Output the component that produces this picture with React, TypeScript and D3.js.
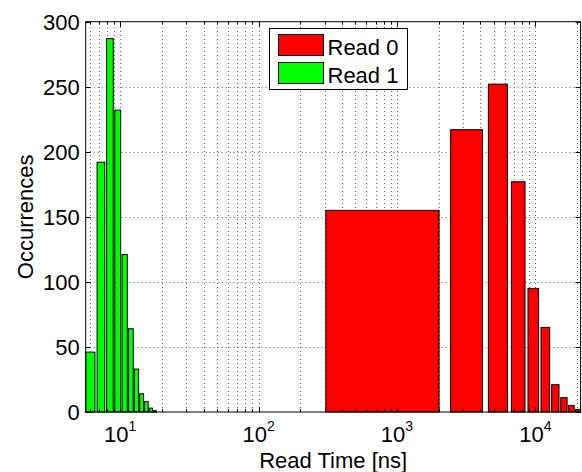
import React, { useEffect, useRef } from 'react';
import * as d3 from 'd3';

// bin centres [ns] and counts
const read0Centers = [1160, 3295, 5430, 7565, 9700, 11835, 13970, 16105, 18240, 20375];
const read0Counts = [155, 217, 252, 177, 95, 65, 21, 11, 5, 2];
const read1Centers = [6.1, 7.27, 8.44, 9.61, 10.78, 11.95, 13.12, 14.29, 15.46, 16.63, 17.8];
const read1Counts = [46, 192, 287, 232, 121, 64, 33, 14, 8, 3, 1];

// bar widths in data units (0.8 of the bin spacing)
const read0BarWidth = 1708;
const read1BarWidth = 0.936;

const xLimits = [5.63, 21230];
const yLimits = [0, 300];
const yTickValues = [0, 50, 100, 150, 200, 250, 300];
const xLabelExponents = [1, 2, 3, 4];
const legendLabels = ['Read 0', 'Read 1'];

const FONT = '"Liberation Sans", Arial, Helvetica, sans-serif';

const App = () => {
  const svgRef = useRef<SVGSVGElement>(null);

  useEffect(() => {
    const svg = d3.select(svgRef.current);
    svg.selectAll('*').remove();

    const width = 582;
    const height = 472;
    const margin = { top: 21.7, right: 1.4, bottom: 60, left: 85.7 };
    const x0 = margin.left;
    const x1 = width - margin.right;
    const y0 = height - margin.bottom;
    const y1 = margin.top;

    const x = d3.scaleLog().domain(xLimits).range([x0, x1]);
    const y = d3.scaleLinear().domain(yLimits).range([y0, y1]);

    const xTicks = x.ticks().filter(d => d >= xLimits[0] && d <= xLimits[1]);
    const isMajor = (d: number) => Math.abs(Math.log10(d) - Math.round(Math.log10(d))) < 1e-9;

    svg.append('rect')
      .attr('width', width)
      .attr('height', height)
      .attr('fill', 'white');

    // dotted grid
    const grid = svg.append('g')
      .attr('stroke', '#666')
      .attr('stroke-width', 1)
      .attr('stroke-dasharray', '1,3');

    grid.selectAll('line.v')
      .data(xTicks)
      .join('line')
      .attr('class', 'v')
      .attr('x1', d => Math.round(x(d)) + 0.5)
      .attr('x2', d => Math.round(x(d)) + 0.5)
      .attr('y1', y0)
      .attr('y2', y1);

    grid.selectAll('line.h')
      .data(yTickValues.filter(d => d > yLimits[0] && d < yLimits[1]))
      .join('line')
      .attr('class', 'h')
      .attr('x1', x0)
      .attr('x2', x1)
      .attr('y1', d => Math.round(y(d)) + 0.5)
      .attr('y2', d => Math.round(y(d)) + 0.5);

    // bars
    const drawBars = (centers: number[], counts: number[], w: number, color: string) => {
      svg.append('g')
        .selectAll('rect')
        .data(centers.map((c, i) => ({ c, n: counts[i] })))
        .join('rect')
        .attr('x', d => x(Math.max(d.c - w / 2, xLimits[0])))
        .attr('width', d => x(Math.min(d.c + w / 2, xLimits[1])) - x(Math.max(d.c - w / 2, xLimits[0])))
        .attr('y', d => y(d.n))
        .attr('height', d => y(0) - y(d.n))
        .attr('fill', color)
        .attr('stroke', '#000')
        .attr('stroke-width', 1);
    };
    drawBars(read1Centers, read1Counts, read1BarWidth, '#00ff00');
    drawBars(read0Centers, read0Counts, read0BarWidth, '#ff0000');

    // frame and ticks
    const axes = svg.append('g').attr('stroke', '#000').attr('stroke-width', 1);
    axes.append('rect')
      .attr('x', x0)
      .attr('y', y1)
      .attr('width', x1 - x0)
      .attr('height', y0 - y1)
      .attr('fill', 'none');

    xTicks.forEach(d => {
      const len = isMajor(d) ? 5 : 3;
      const px = Math.round(x(d)) + 0.5;
      axes.append('line').attr('x1', px).attr('x2', px).attr('y1', y0).attr('y2', y0 - len);
      axes.append('line').attr('x1', px).attr('x2', px).attr('y1', y1).attr('y2', y1 + len);
    });
    yTickValues.forEach(d => {
      const py = Math.round(y(d)) + 0.5;
      axes.append('line').attr('x1', x0).attr('x2', x0 + 5).attr('y1', py).attr('y2', py);
      axes.append('line').attr('x1', x1).attr('x2', x1 - 5).attr('y1', py).attr('y2', py);
    });

    // tick labels
    svg.append('g')
      .selectAll('text')
      .data(yTickValues)
      .join('text')
      .attr('x', x0 - 6)
      .attr('y', d => y(d))
      .attr('dy', '0.36em')
      .attr('text-anchor', 'end')
      .attr('font-family', FONT)
      .attr('font-size', 22)
      .text(d => d);

    const xl = svg.append('g')
      .selectAll('text')
      .data(xLabelExponents)
      .join('text')
      .attr('x', d => x(Math.pow(10, d)))
      .attr('y', 442)
      .attr('text-anchor', 'middle')
      .attr('font-family', FONT)
      .attr('font-size', 22);
    xl.append('tspan').text('10');
    xl.append('tspan')
      .attr('font-size', 14)
      .attr('dy', -11)
      .text(d => d);

    // axis titles
    svg.append('text')
      .attr('x', (x0 + x1) / 2)
      .attr('y', 467.5)
      .attr('text-anchor', 'middle')
      .attr('font-family', FONT)
      .attr('font-size', 22)
      .text('Read Time [ns]');

    svg.append('text')
      .attr('transform', `translate(33,${(y0 + y1) / 2}) rotate(-90)`)
      .attr('text-anchor', 'middle')
      .attr('font-family', FONT)
      .attr('font-size', 22)
      .text('Occurrences');

    // legend
    const legend = svg.append('g').attr('transform', 'translate(269.5,28.5)');
    legend.append('rect')
      .attr('width', 138)
      .attr('height', 61)
      .attr('fill', 'white')
      .attr('stroke', '#000');
    const colors = ['#ff0000', '#00ff00'];
    legendLabels.forEach((label, i) => {
      legend.append('rect')
        .attr('x', 9)
        .attr('y', 6 + i * 28)
        .attr('width', 45)
        .attr('height', 21)
        .attr('fill', colors[i])
        .attr('stroke', '#000');
      legend.append('text')
        .attr('x', 58)
        .attr('y', 26 + i * 28)
        .attr('font-family', FONT)
        .attr('font-size', 22)
        .text(label);
    });
  }, []);

  return (
    <div>
      <svg
        ref={svgRef}
        width={582}
        height={472}
        style={{ position: 'absolute', left: 0, top: 0 }}
      ></svg>
    </div>
  );
};

export default App;
